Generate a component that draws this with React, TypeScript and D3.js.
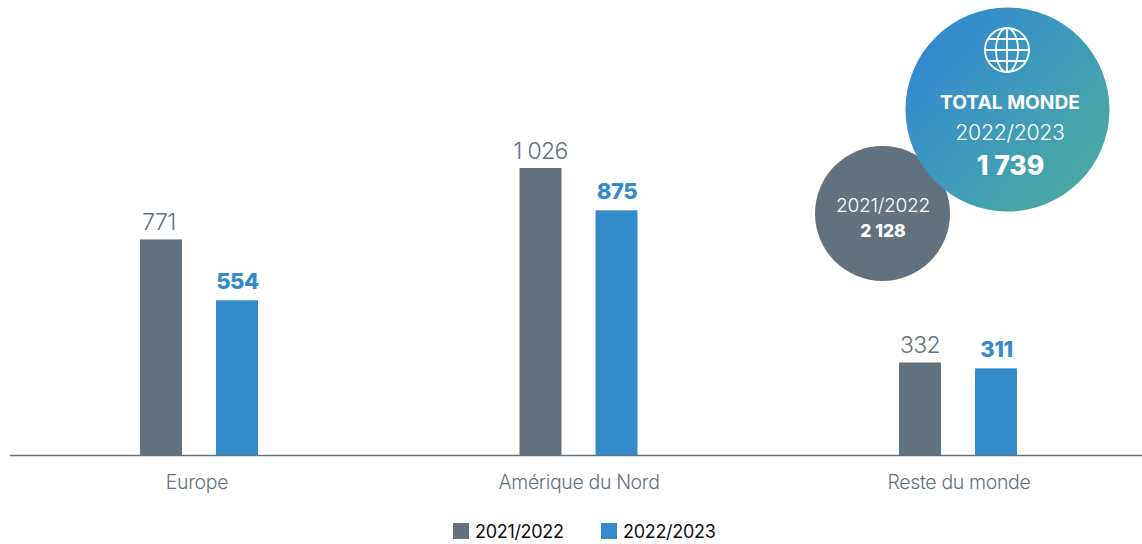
import React from "react";
import * as d3 from "d3";

// Sales by region, two seasons
const regions = ["Europe", "Amérique du Nord", "Reste du monde"];
const seasons = ["2021/2022", "2022/2023"];
const values2122 = [771, 1026, 332];
const values2223 = [554, 875, 311];
const labels2122 = ["771", "1 026", "332"];
const labels2223 = ["554", "875", "311"];
const totalTitle = "TOTAL MONDE";
const total2122 = "2 128";
const total2223 = "1 739";

const GREY = "#62737f";
const BLUE = "#338bcc";
const FONT = "Inter, sans-serif";

const W = 1142;
const H = 544;
const baseY = 455.5;
const barW = 42;

export default function App() {
  const x = d3.scalePoint<string>().domain(regions).range([199, 958]);
  const y = d3.scaleLinear().domain([0, 1026]).range([baseY, 168]);
  const offset = d3.scalePoint<string>().domain(seasons).range([-38, 38]);

  // Globe icon: central meridian plus one ellipse, three parallels
  const meridians = [0, 0.5];
  const parallels = [-11, 0, 11];
  const gx = 1007;
  const gy = 50;
  const gr = 22;

  return (
    <svg
      width={W}
      height={H}
      viewBox={`0 0 ${W} ${H}`}
      style={{ position: "absolute", left: 0, top: 0, display: "block" }}
      fontFamily={FONT}
    >
      <defs>
        <linearGradient id="totalFill" x1="0.12" y1="0.2" x2="0.88" y2="0.85">
          <stop offset="0" stopColor="#338bcf" />
          <stop offset="1" stopColor="#4aa9a4" />
        </linearGradient>
      </defs>

      {regions.map((r, i) => (
        <g key={r}>
          <rect
            x={x(r)! + offset(seasons[0])! - barW / 2}
            y={y(values2122[i])}
            width={barW}
            height={baseY - y(values2122[i])}
            fill={GREY}
          />
          <rect
            x={x(r)! + offset(seasons[1])! - barW / 2}
            y={y(values2223[i])}
            width={barW}
            height={baseY - y(values2223[i])}
            fill={BLUE}
          />
          <text
            x={x(r)! + offset(seasons[0])! - (i === 0 ? 2 : 0)}
            y={y(values2122[i]) - 9}
            textAnchor="middle"
            fontSize={23}
            fontWeight={300}
            letterSpacing={-0.6}
            fill={GREY}
          >
            {labels2122[i]}
          </text>
          <text
            x={x(r)! + offset(seasons[1])! + 0.5}
            y={y(values2223[i]) - 11}
            textAnchor="middle"
            fontSize={22}
            fontWeight={800}
            letterSpacing={-0.4}
            fill={BLUE}
          >
            {labels2223[i]}
          </text>
          <text
            x={x(r)! - (i === 0 ? 2 : 0) + (i === 2 ? 1 : 0) + (i === 1 ? 0.5 : 0)}
            y={488.5}
            textAnchor="middle"
            fontSize={19.5}
            fontWeight={300}
            letterSpacing={-0.35}
            fill="#62737f"
          >
            {r}
          </text>
        </g>
      ))}

      <line x1={10} x2={W} y1={455.5} y2={455.5} stroke={GREY} strokeWidth={1.3} />

      <circle cx={882.5} cy={213.5} r={67.5} fill={GREY} />
      <circle cx={1007.5} cy={109.5} r={102} fill="url(#totalFill)" />

      <g fill="none" stroke="#fff" strokeWidth={1.8}>
        <circle cx={gx} cy={gy} r={gr} />
        {meridians.map((m) =>
          m === 0 ? (
            <line key={m} x1={gx} x2={gx} y1={gy - gr} y2={gy + gr} />
          ) : (
            <ellipse key={m} cx={gx} cy={gy} rx={gr * m} ry={gr} />
          )
        )}
        {parallels.map((p) => {
          const half = Math.sqrt(gr * gr - p * p);
          return <line key={p} x1={gx - half} x2={gx + half} y1={gy + p} y2={gy + p} />;
        })}
      </g>

      <text x={1010} y={108.5} textAnchor="middle" fontSize={19.2} fontWeight={700} fill="#fff">
        {totalTitle}
      </text>
      <text x={1010} y={139.5} textAnchor="middle" fontSize={21.3} fontWeight={300} letterSpacing={-0.3} fill="#fff">
        {seasons[1]}
      </text>
      <text x={1010.5} y={175} textAnchor="middle" fontSize={26.5} fontWeight={800} fill="#fff">
        {total2223}
      </text>

      <text x={883} y={212} textAnchor="middle" fontSize={19.2} fontWeight={300} letterSpacing={-0.3} fill="#fff">
        {seasons[0]}
      </text>
      <text x={883} y={237} textAnchor="middle" fontSize={17.5} fontWeight={800} fill="#fff">
        {total2122}
      </text>

      <rect x={453} y={523} width={16} height={16} fill={GREY} />
      <text x={475} y={538} fontSize={18} fontWeight={400} letterSpacing={-0.3} fill="#111">
        {seasons[0]}
      </text>
      <rect x={601} y={523} width={16} height={16} fill={BLUE} />
      <text x={623} y={538} fontSize={18} fontWeight={400} letterSpacing={-0.3} fill="#111">
        {seasons[1]}
      </text>
    </svg>
  );
}
